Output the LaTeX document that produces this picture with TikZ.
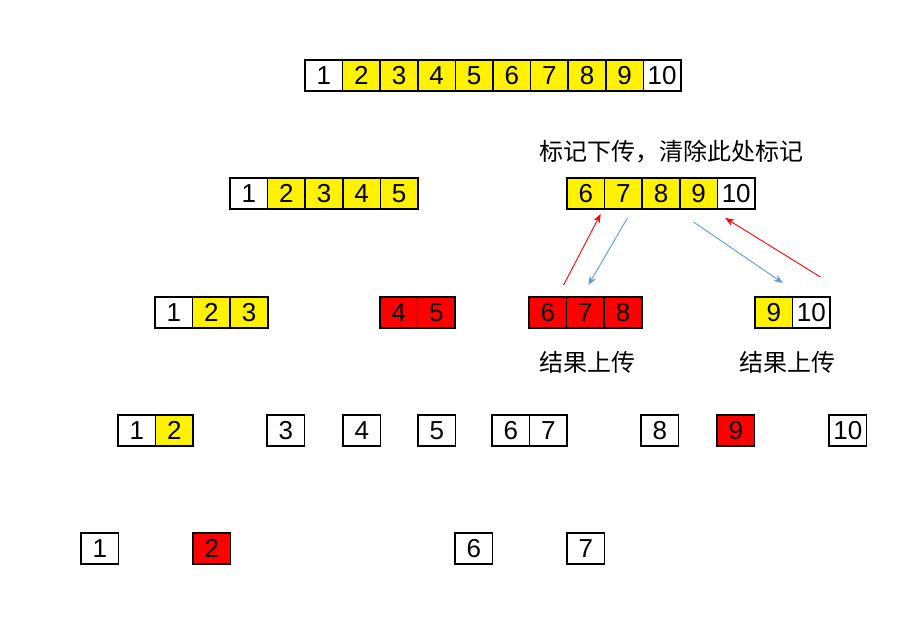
\documentclass[tikz,border=0pt]{standalone}
\usepackage{fontspec}
\setmainfont{Liberation Sans}
\newfontfamily\cjk{Noto Sans CJK SC}
\usepackage{tikz}
\usetikzlibrary{arrows.meta,positioning}
\definecolor{linkblue}{RGB}{91,155,213}

\begin{document}
\begin{tikzpicture}[
  x=1pt, y=-1pt,
  font=\fontsize{26}{26}\selectfont,
  node distance=0pt,
  cell/.style={draw=black, line width=1.6pt, rectangle, outer sep=0pt, inner sep=0pt, minimum height=31pt, minimum width=37.6pt, fill=white},
  lazy/.style={cell, fill=yellow},
  hit/.style={cell, fill=red},
  note/.style={font=\cjk\fontsize{24}{24}\selectfont},
  push/.style={-{Stealth[length=9pt,width=7pt]}, line width=0.9pt, red},
  pull/.style={-{Stealth[length=9pt,width=7pt]}, line width=0.9pt, linkblue}
]
  \useasboundingbox (0,0) rectangle (912,630);

  % root [1,10]
  \node[cell, anchor=west] (a1) at (305,75.5) {1};
  \node[lazy, right=of a1] (a2) {2};
  \node[lazy, right=of a2] (a3) {3};
  \node[lazy, right=of a3] (a4) {4};
  \node[lazy, right=of a4] (a5) {5};
  \node[lazy, right=of a5] (a6) {6};
  \node[lazy, right=of a6] (a7) {7};
  \node[lazy, right=of a7] (a8) {8};
  \node[lazy, right=of a8] (a9) {9};
  \node[cell, right=of a9] (a10) {10};

  % level 2
  \node[cell, anchor=west] (b1) at (230,193.5) {1};
  \node[lazy, right=of b1] (b2) {2};
  \node[lazy, right=of b2] (b3) {3};
  \node[lazy, right=of b3] (b4) {4};
  \node[lazy, right=of b4] (b5) {5};
  \node[lazy, anchor=west] (b6) at (567,193.5) {6};
  \node[lazy, right=of b6] (b7) {7};
  \node[lazy, right=of b7] (b8) {8};
  \node[lazy, right=of b8] (b9) {9};
  \node[cell, right=of b9] (b10) {10};

  % level 3
  \node[cell, anchor=west] (c1) at (155,312.5) {1};
  \node[lazy, right=of c1] (c2) {2};
  \node[lazy, right=of c2] (c3) {3};
  \node[hit, anchor=west] (c4) at (380,312.5) {4};
  \node[hit, right=of c4] (c5) {5};
  \node[hit, anchor=west] (c6) at (529,312.5) {6};
  \node[hit, right=of c6] (c7) {7};
  \node[hit, right=of c7] (c8) {8};
  \node[lazy, anchor=west] (c9) at (755,312.5) {9};
  \node[cell, right=of c9] (c10) {10};

  % level 4
  \node[cell, anchor=west] (d1) at (118,430.5) {1};
  \node[lazy, right=of d1] (d2) {2};
  \node[cell, anchor=west] (d3) at (267,430.5) {3};
  \node[cell, anchor=west] (d4) at (343,430.5) {4};
  \node[cell, anchor=west] (d5) at (418,430.5) {5};
  \node[cell, anchor=west] (d6) at (492,430.5) {6};
  \node[cell, right=of d6] (d7) {7};
  \node[cell, anchor=west] (d8) at (641,430.5) {8};
  \node[hit, anchor=west] (d9) at (717,430.5) {9};
  \node[cell, anchor=west] (d10) at (829,430.5) {10};

  % level 5
  \node[cell, anchor=west] (e1) at (81,548.5) {1};
  \node[hit, anchor=west] (e2) at (193,548.5) {2};
  \node[cell, anchor=west] (e6) at (455,548.5) {6};
  \node[cell, anchor=west] (e7) at (567,548.5) {7};

  % labels
  \node[note] (pushdown) at (671,152) {标记下传，清除此处标记};
  \node[note] (upleft) at (587,362) {结果上传};
  \node[note] (upright) at (787,362) {结果上传};

  % push down / pull up
  \draw[push] ([xshift=-3pt,yshift=12pt]c6.north east) -- ([xshift=-4pt,yshift=-5pt]b6.south east);
  \draw[pull] ([xshift=4pt,yshift=-9pt]b7.south) -- ([xshift=3pt,yshift=12pt]c7.north);
  \draw[pull] ([xshift=-5pt,yshift=-13pt]b9.south) -- ([xshift=9pt,yshift=14pt]c9.north);
  \draw[push] ([xshift=9pt,yshift=20pt]c10.north) -- ([xshift=-11pt,yshift=-9pt]b10.south);
\end{tikzpicture}
\end{document}
